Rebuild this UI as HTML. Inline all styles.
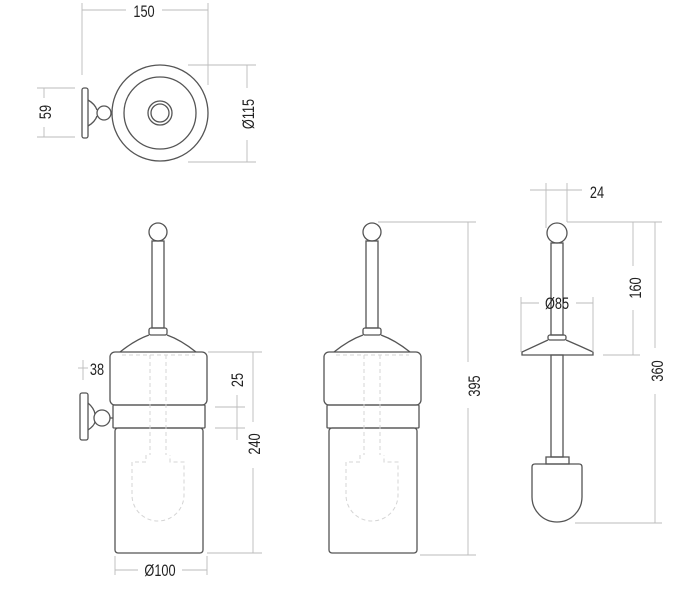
<!DOCTYPE html>
<html><head><meta charset="utf-8"><style>
html,body{margin:0;padding:0;background:#fff;}
svg{display:block}
text{font-family:"Liberation Sans",sans-serif;font-size:17px;fill:#222;}
.o{fill:none;stroke:#555;stroke-width:1.3}
.d{fill:none;stroke:#bbb;stroke-width:0.9}
.h{fill:none;stroke:#d4d4d4;stroke-width:1;stroke-dasharray:4 3}
</style></head><body>
<svg width="700" height="600" viewBox="0 0 700 600">
<g>
<line class="d" x1="82" y1="3" x2="82" y2="75"/><line class="d" x1="208" y1="3" x2="208" y2="85"/>
<line class="d" x1="82" y1="10" x2="126" y2="10"/><line class="d" x1="162" y1="10" x2="208" y2="10"/>
<text text-anchor="middle" transform="translate(144 17) scale(0.75 1)">150</text>
<line class="d" x1="37" y1="88" x2="75" y2="88"/><line class="d" x1="37" y1="137" x2="75" y2="137"/>
<line class="d" x1="44" y1="88" x2="44" y2="98"/><line class="d" x1="44" y1="127" x2="44" y2="137"/>
<text transform="translate(51 112) rotate(-90) scale(0.75 1)" text-anchor="middle">59</text>
<line class="d" x1="188" y1="65" x2="256" y2="65"/><line class="d" x1="188" y1="162" x2="256" y2="162"/>
<line class="d" x1="247" y1="65" x2="247" y2="88"/><line class="d" x1="247" y1="140" x2="247" y2="162"/>
<text transform="translate(254 114) rotate(-90) scale(0.75 1)" text-anchor="middle">Ø115</text>
<rect class="o" x="82" y="88" width="6" height="50" rx="2"/>
<path class="o" d="M88 100 Q95 104 97 110 M88 126 Q95 122 97 116"/>
<circle class="o" cx="104" cy="113" r="7"/>
<circle class="o" cx="160" cy="113" r="48" fill="#fff"/>
<circle class="o" cx="160" cy="113" r="36"/>
<circle class="o" cx="160" cy="113" r="12"/>
<circle class="o" cx="160" cy="113" r="9"/>
</g>
<defs>
<g id="holder">
<circle class="o" cx="158" cy="232" r="9"/>
<rect class="o" x="152" y="241" width="12" height="87"/>
<rect class="o" x="149" y="328" width="18" height="7" rx="2"/>
<path class="o" d="M149 335 Q135 340 120 352 M167 335 Q181 340 196 352"/>
<rect class="o" x="110" y="352" width="97" height="53" rx="5" fill="#fff"/>
<rect class="o" x="113" y="405" width="92" height="23" rx="1"/>
<rect class="o" x="115" y="428" width="88" height="125" rx="3"/>
<line class="h" x1="122" y1="355" x2="195" y2="355"/>
<line class="h" x1="150" y1="355" x2="150" y2="455"/>
<line class="h" x1="166" y1="355" x2="166" y2="455"/>
<path class="h" d="M146 455 V462 H132 V495 A26 26 0 0 0 184 495 V462 H170 V455"/>
</g>
</defs>
<use href="#holder"/>
<use href="#holder" transform="translate(214 0)"/>
<rect class="o" x="80" y="393" width="8" height="47" rx="2"/>
<path class="o" d="M88 403 Q94 408 95 414 M88 430 Q94 426 95 422"/>
<circle class="o" cx="102" cy="418" r="8"/>
<line class="o" x1="110" y1="418" x2="113" y2="418"/>
<line class="d" x1="83" y1="360" x2="83" y2="380"/><line class="d" x1="78" y1="368" x2="88" y2="368"/>
<text transform="translate(97 375) scale(0.75 1)" text-anchor="middle">38</text>
<line class="d" x1="208" y1="352" x2="262" y2="352"/>
<line class="d" x1="215" y1="407" x2="245" y2="407"/><line class="d" x1="215" y1="428" x2="245" y2="428"/>
<line class="d" x1="207" y1="553" x2="262" y2="553"/>
<line class="d" x1="253" y1="352" x2="253" y2="422"/><line class="d" x1="253" y1="468" x2="253" y2="553"/>
<line class="d" x1="237" y1="395" x2="237" y2="440"/>
<text transform="translate(243 380) rotate(-90) scale(0.75 1)" text-anchor="middle">25</text>
<text transform="translate(260 444) rotate(-90) scale(0.75 1)" text-anchor="middle">240</text>
<line class="d" x1="115" y1="556" x2="115" y2="575"/><line class="d" x1="207" y1="556" x2="207" y2="575"/>
<line class="d" x1="115" y1="570" x2="138" y2="570"/><line class="d" x1="182" y1="570" x2="207" y2="570"/>
<text transform="translate(160 576) scale(0.75 1)" text-anchor="middle">Ø100</text>
<line class="d" x1="378" y1="222" x2="476" y2="222"/>
<line class="d" x1="420" y1="555" x2="476" y2="555"/>
<line class="d" x1="468" y1="222" x2="468" y2="362"/><line class="d" x1="468" y1="408" x2="468" y2="555"/>
<text transform="translate(480 386) rotate(-90) scale(0.75 1)" text-anchor="middle">395</text>
<circle class="o" cx="557" cy="233" r="10"/>
<rect class="o" x="551" y="243" width="12" height="92"/>
<rect class="o" x="548" y="335" width="18" height="5" rx="2"/>
<path class="o" d="M548 340 Q535 346 522 352 L522 355 L593 355 L593 352 Q580 346 566 340"/>
<rect class="o" x="551" y="355" width="12" height="102"/>
<rect class="o" x="546" y="457" width="23" height="7"/>
<path class="o" d="M532 467 Q532 464 535 464 H579 Q582 464 582 467 V497 A25 25 0 0 1 532 497 Z"/>
<line class="d" x1="546" y1="183" x2="546" y2="228"/><line class="d" x1="567" y1="183" x2="567" y2="222"/>
<line class="d" x1="530" y1="190" x2="582" y2="190"/>
<text transform="translate(597 198) scale(0.75 1)" text-anchor="middle">24</text>
<line class="d" x1="521" y1="297" x2="521" y2="352"/><line class="d" x1="593" y1="297" x2="593" y2="352"/>
<line class="d" x1="521" y1="303" x2="539" y2="303"/><line class="d" x1="576" y1="303" x2="593" y2="303"/>
<text transform="translate(557 309) scale(0.75 1)" text-anchor="middle">Ø85</text>
<line class="d" x1="567" y1="222" x2="662" y2="222"/>
<line class="d" x1="603" y1="355" x2="640" y2="355"/>
<line class="d" x1="575" y1="523" x2="662" y2="523"/>
<line class="d" x1="633" y1="222" x2="633" y2="266"/><line class="d" x1="633" y1="310" x2="633" y2="355"/>
<text transform="translate(641 288) rotate(-90) scale(0.75 1)" text-anchor="middle">160</text>
<line class="d" x1="655" y1="222" x2="655" y2="348"/><line class="d" x1="655" y1="394" x2="655" y2="523"/>
<text transform="translate(663 371) rotate(-90) scale(0.75 1)" text-anchor="middle">360</text>
</svg>
</body></html>
